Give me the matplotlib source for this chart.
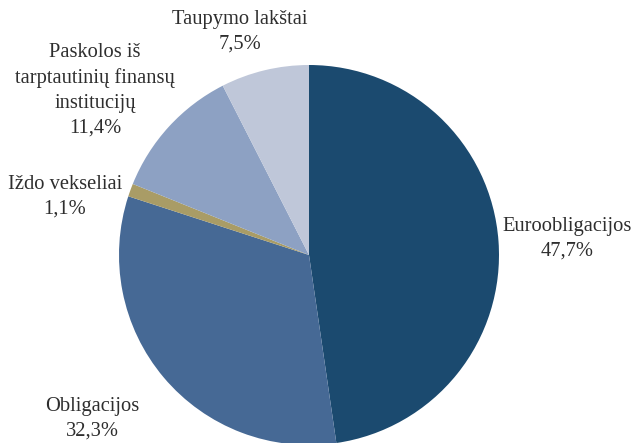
import matplotlib
matplotlib.use("Agg")
import matplotlib.pyplot as plt

categories = ["Euroobligacijos", "Obligacijos", "Iždo vekseliai",
              "Paskolos iš\ntarptautinių finansų\ninstitucijų", "Taupymo lakštai"]
values = [47.7, 32.3, 1.1, 11.4, 7.5]
value_labels = ["47,7%", "32,3%", "1,1%", "11,4%", "7,5%"]
colors = ["#1b4a6f", "#466995", "#a99c66", "#8da1c3", "#bfc7d9"]

W, H = 633, 443
fig = plt.figure(figsize=(W / 100, H / 100), dpi=100)
fig.patch.set_facecolor("white")

cx, cy, r = 309, 255, 190
ax = fig.add_axes([(cx - r) / W, (H - cy - r) / H, 2 * r / W, 2 * r / H])
ax.pie(values, colors=colors, startangle=90, counterclock=False,
       radius=1, wedgeprops=dict(linewidth=0))
ax.set_xlim(-1, 1)
ax.set_ylim(-1, 1)
ax.axis("off")

# label block centres in pixel positions
label_pos = [(567, 239), (92, 419), (65, 197), (95, 90), (240, 32)]
for cat, vl, (px, py) in zip(categories, value_labels, label_pos):
    fig.text(px / W, 1 - py / H, cat + "\n" + vl, ha="center", va="center",
             fontsize=14.8, family="Liberation Serif", color="#2e2e2e",
             linespacing=1.42)

fig.savefig("out.png", dpi=100)
